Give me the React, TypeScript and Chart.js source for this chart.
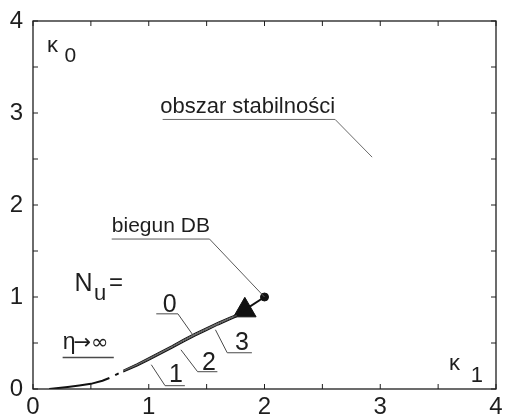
import { useEffect, useRef } from "react";
import { Chart, registerables } from "chart.js";

Chart.register(...registerables);

// Stability boundary for eta -> infinity (lower-left piece, with a short break)
const etaInfK1 = [0.14, 0.2, 0.3, 0.4, 0.5, 0.6, 0.66, 0.68, 0.71, 0.74];
const etaInfK0 = [0, 0.008, 0.022, 0.038, 0.056, 0.09, 0.12, null, 0.15, 0.17];

// Stability boundaries for N_u = 0, 1, 2, 3
const nuK1 = [0.78, 0.9, 1.0, 1.1, 1.2, 1.3, 1.4, 1.5, 1.6, 1.7, 1.76];
const nu0K0 = [0.205, 0.275, 0.34, 0.405, 0.47, 0.54, 0.605, 0.665, 0.725, 0.78, 0.81];
const nu3K0 = [0.2, 0.268, 0.332, 0.397, 0.462, 0.532, 0.597, 0.657, 0.717, 0.772, 0.802];
const nu2K0 = [0.192, 0.259, 0.323, 0.387, 0.452, 0.522, 0.587, 0.647, 0.707, 0.762, 0.793];
const nu1K0 = [0.185, 0.25, 0.313, 0.377, 0.442, 0.512, 0.577, 0.637, 0.697, 0.752, 0.785];

// Pole DB and the arrow head pointing back onto the boundary
const poleK1 = [2.0];
const poleK0 = [1.0];
const arrowK1 = [2.0, 1.8];
const arrowK0 = [1.0, 0.835];
const headK1 = [1.83];
const headK0 = [0.855];

// Leader lines (underline + pointer) for the annotations
const leaderObszarK1 = [1.12, 2.61, 2.93];
const leaderObszarK0 = [2.93, 2.93, 2.52];
const leaderBiegunK1 = [0.68, 1.525, 2.0];
const leaderBiegunK0 = [1.63, 1.63, 1.0];
const leader0K1 = [1.065, 1.252, 1.38];
const leader0K0 = [0.817, 0.817, 0.589];
const leader3K1 = [1.891, 1.678, 1.576];
const leader3K0 = [0.394, 0.394, 0.644];
const leader2K1 = [1.593, 1.422, 1.278];
const leader2K0 = [0.188, 0.188, 0.426];
const leader1K1 = [1.312, 1.141, 1.022];
const leader1K0 = [0.036, 0.036, 0.264];
const leaderEtaK1 = [0.256, 0.698];
const leaderEtaK0 = [0.343, 0.343];

// Axis ticks
const axisTicks = [0, 1, 2, 3, 4];
const minorTicks = [0, 0.5, 1, 1.5, 2, 2.5, 3, 3.5, 4];

// Text annotations, anchored in (kappa1, kappa0) coordinates
const noteTexts = ["obszar stabilności", "biegun DB", "N", "u", "=", "0", "3", "2", "1", "η", "→∞", "κ", "0", "κ", "1"];
const noteK1 = [1.099, 0.681, 0.358, 0.528, 0.656, 1.18, 1.806, 1.52, 1.235, 0.256, 0.35, 0.12, 0.273, 3.595, 3.782];
const noteK0 = [2.998, 1.707, 1.067, 0.969, 1.077, 0.839, 0.427, 0.21, 0.079, 0.437, 0.437, 3.66, 3.55, 0.209, 0.08];
const noteSizes = [22, 21, 25, 22, 24, 25, 25, 25, 25, 23, 21, 22, 21, 22, 22];
const noteAligns: CanvasTextAlign[] = ["left", "left", "left", "left", "left", "center", "center", "center", "center", "left", "left", "left", "left", "left", "left"];

const FONT = '"Liberation Sans", Arial, sans-serif';
const SYMBOL_FONT = '"DejaVu Sans", sans-serif';
const noteFonts = [FONT, FONT, FONT, FONT, FONT, FONT, FONT, FONT, FONT, FONT, SYMBOL_FONT, FONT, FONT, FONT, FONT];
const INK = "#1e1e1e";

const pts = (xs: number[], ys: (number | null)[]) => xs.map((x, i) => ({ x, y: ys[i] }));

const line = (xs: number[], ys: (number | null)[], width: number, color: string) => ({
  data: pts(xs, ys),
  showLine: true,
  borderColor: color,
  borderWidth: width,
  pointRadius: 0,
  fill: false,
  spanGaps: false,
  tension: 0,
});

const framePlugin = {
  id: "frameAndNotes",
  afterDraw(chart: Chart) {
    const { ctx, chartArea: a, scales } = chart;
    const xs = scales.x;
    const ys = scales.y;
    ctx.save();
    ctx.strokeStyle = INK;
    ctx.lineWidth = 1.3;
    ctx.strokeRect(a.left, a.top, a.right - a.left, a.bottom - a.top);
    // inward ticks on all four sides
    ctx.lineWidth = 1;
    const len = 5;
    ctx.beginPath();
    minorTicks.forEach((v) => {
      const px = xs.getPixelForValue(v);
      ctx.moveTo(px, a.bottom);
      ctx.lineTo(px, a.bottom - len);
      ctx.moveTo(px, a.top);
      ctx.lineTo(px, a.top + len);
      const py = ys.getPixelForValue(v);
      ctx.moveTo(a.left, py);
      ctx.lineTo(a.left + len, py);
      ctx.moveTo(a.right, py);
      ctx.lineTo(a.right - len, py);
    });
    ctx.stroke();
    // annotations
    ctx.fillStyle = INK;
    ctx.textBaseline = "alphabetic";
    noteTexts.forEach((t, i) => {
      ctx.font = `${noteSizes[i]}px ${noteFonts[i]}`;
      ctx.textAlign = noteAligns[i];
      ctx.fillText(t, xs.getPixelForValue(noteK1[i]), ys.getPixelForValue(noteK0[i]));
    });
    ctx.restore();
  },
};

export default function App() {
  const ref = useRef<HTMLCanvasElement | null>(null);

  useEffect(() => {
    if (!ref.current) return;
    const chart = new Chart(ref.current, {
      type: "scatter",
      data: {
        datasets: [
          line(leaderObszarK1, leaderObszarK0, 1, "#6a6a6a"),
          line(leaderBiegunK1, leaderBiegunK0, 1, "#5a5a5a"),
          line(leader0K1, leader0K0, 1, "#4a4a4a"),
          line(leader3K1, leader3K0, 1, "#4a4a4a"),
          line(leader2K1, leader2K0, 1, "#4a4a4a"),
          line(leader1K1, leader1K0, 1, "#4a4a4a"),
          line(leaderEtaK1, leaderEtaK0, 1.4, "#4a4a4a"),
          line(etaInfK1, etaInfK0, 2, "#111"),
          line(nuK1, nu1K0, 1.1, "#111"),
          line(nuK1, nu2K0, 1, "#555"),
          line(nuK1, nu3K0, 1, "#555"),
          line(nuK1, nu0K0, 1.1, "#111"),
          line(arrowK1, arrowK0, 2, "#111"),
          {
            data: pts(poleK1, poleK0),
            pointRadius: 4,
            pointBackgroundColor: "#111",
            pointBorderColor: "#111",
            showLine: false,
          },
          {
            data: pts(headK1, headK0),
            pointStyle: "triangle",
            pointRadius: 13,
            rotation: 240,
            pointBackgroundColor: "#111",
            pointBorderColor: "#111",
            showLine: false,
          },
        ],
      },
      options: {
        animation: false,
        responsive: false,
        layout: { padding: { top: 21, right: 8, left: 0, bottom: 0 } },
        plugins: { legend: { display: false }, tooltip: { enabled: false } },
        scales: {
          x: {
            type: "linear",
            min: 0,
            max: 4,
            afterBuildTicks: (s: any) => {
              s.ticks = axisTicks.map((v) => ({ value: v }));
            },
            afterFit: (s: any) => {
              s.height = 31;
              s.paddingLeft = 0;
              s.paddingRight = 0;
            },
            grid: { display: false, drawTicks: false },
            border: { display: false },
            ticks: { font: { size: 24, family: FONT }, color: INK, padding: 4, maxRotation: 0 },
          },
          y: {
            type: "linear",
            min: 0,
            max: 4,
            afterBuildTicks: (s: any) => {
              s.ticks = axisTicks.map((v) => ({ value: v }));
            },
            afterFit: (s: any) => {
              s.width = 33;
              s.paddingTop = 0;
              s.paddingBottom = 0;
            },
            grid: { display: false, drawTicks: false },
            border: { display: false },
            ticks: { font: { size: 24, family: FONT }, color: INK, padding: 10 },
          },
        },
      },
      plugins: [framePlugin],
    });
    return () => chart.destroy();
  }, []);

  return (
    <div style={{ position: "fixed", left: 0, top: 0, width: 510, height: 420, background: "#fff" }}>
      <canvas ref={ref} width={510} height={420} style={{ display: "block" }} />
    </div>
  );
}
